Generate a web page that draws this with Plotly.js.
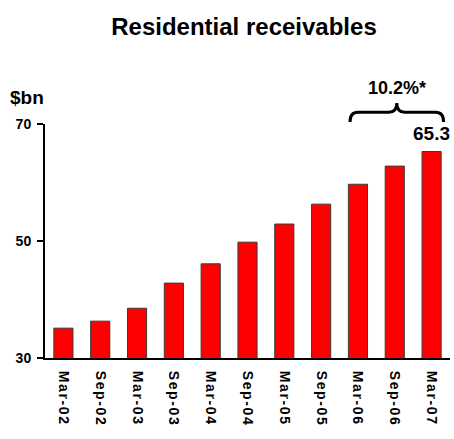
<!DOCTYPE html>
<html><head><meta charset="utf-8">
<script src="https://cdn.plot.ly/plotly-3.0.1.min.js"></script>
<style>body{margin:0;background:#fff}.xtick text{letter-spacing:1.6px}</style>
</head><body><div id="chart" style="width:454px;height:439px"></div>
<script>
const categories = ["Mar-02","Sep-02","Mar-03","Sep-03","Mar-04","Sep-04","Mar-05","Sep-05","Mar-06","Sep-06","Mar-07"];
const values = [35.1, 36.3, 38.5, 42.8, 46.1, 49.8, 52.9, 56.3, 59.7, 62.8, 65.3];
const yTicks = [30, 50, 70];
const growthLabel = "10.2%*";
const lastLabel = "65.3";

const FONT = "Liberation Sans, Arial, sans-serif";
const n = categories.length;
const barW = 0.52;
const px = i => (i + 0.5) / n;
// brace over the last three bars (paper coordinates)
const xl = px(n - 3) - barW / 2 / n + 0.004, xr = px(n - 1) + barW / 2 / n + 0.006;
const xm = (xl + xr) / 2;
const yb = 1.009, yf = 1.05, yt = 1.09, dx = 0.02;
const brace = `M ${xl},${yb} Q ${xl},${yf} ${xl+dx},${yf} L ${xm-dx},${yf} Q ${xm},${yf} ${xm},${yt} Q ${xm},${yf} ${xm+dx},${yf} L ${xr-dx},${yf} Q ${xr},${yf} ${xr},${yb}`;

Plotly.newPlot("chart", [{
  type: "bar",
  x: categories,
  y: values,
  width: barW,
  marker: {color: "#ff0000", line: {color: "#3a3a3a", width: 1}},
  hoverinfo: "none"
}], {
  width: 454, height: 439,
  margin: {l: 45, r: 4, t: 124, b: 81},
  paper_bgcolor: "#fff", plot_bgcolor: "#fff",
  showlegend: false,
  title: {text: "<b>Residential receivables</b>", font: {family: FONT, size: 24, color: "#000", weight: "bold"}, x: 244/454, xref: "container", xanchor: "center", y: 1 - 27/439, yanchor: "middle"},
  xaxis: {
    type: "category", range: [-0.5, n - 0.5],
    showline: true, linecolor: "#000", linewidth: 2, showgrid: false, ticks: "",
    tickangle: 90, ticklabelstandoff: 8,
    tickfont: {family: FONT, size: 14, color: "#000", weight: "bold"}
  },
  yaxis: {
    range: [30, 70], tickvals: yTicks, ticktext: yTicks.map(String),
    showline: true, linecolor: "#000", linewidth: 2, showgrid: false, zeroline: false,
    ticks: "outside", ticklen: 6, tickwidth: 2, tickcolor: "#000", ticklabelstandoff: 3,
    tickfont: {family: FONT, size: 14, color: "#000", weight: "bold"}
  },
  shapes: [{type: "path", xref: "paper", yref: "paper", path: brace, line: {color: "#000", width: 3}}],
  annotations: [
    {xref: "paper", yref: "paper", x: -37/405, y: (358-97)/234, xanchor: "left", yanchor: "middle", showarrow: false,
     text: "<b>$bn</b>", font: {family: FONT, size: 19, color: "#000"}},
    {xref: "paper", yref: "paper", x: xm, y: (358-88)/234, xanchor: "center", yanchor: "middle", showarrow: false,
     text: "<b>" + growthLabel + "</b>", font: {family: FONT, size: 18, color: "#000"}},
    {xref: "x", yref: "y", x: categories[n - 1], y: values[n - 1], xanchor: "center", yanchor: "bottom", yshift: 6, showarrow: false,
     text: "<b>" + lastLabel + "</b>", font: {family: FONT, size: 19, color: "#000"}}
  ]
}, {displayModeBar: false, staticPlot: true});
</script></body></html>
